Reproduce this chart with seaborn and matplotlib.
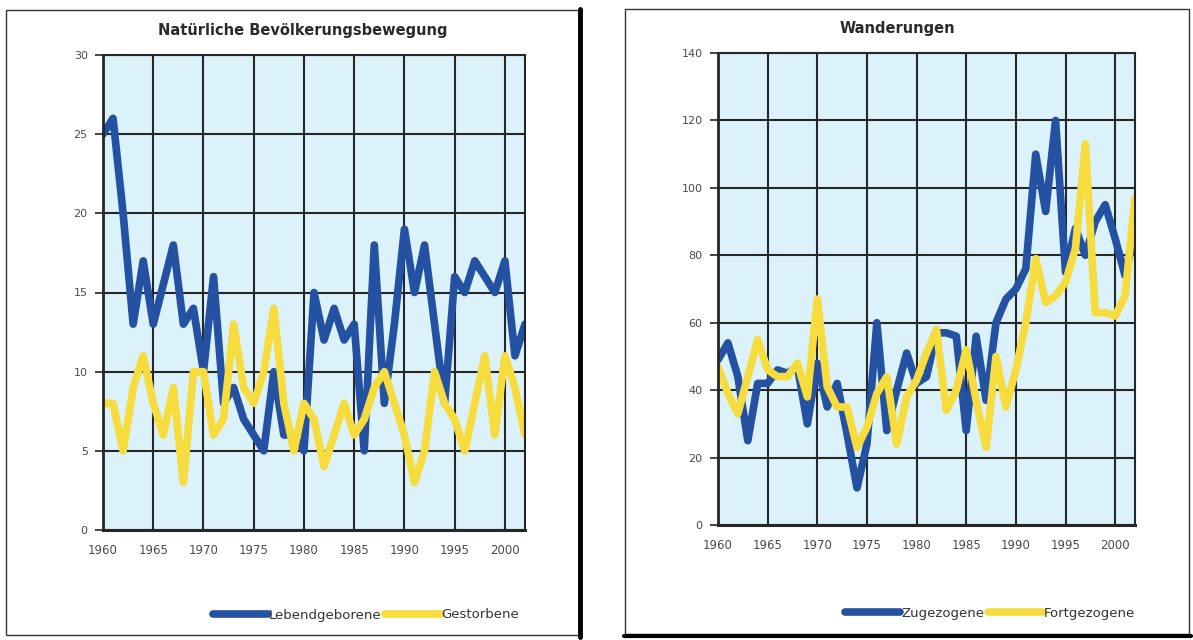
import matplotlib
matplotlib.use('Agg')
import matplotlib.pyplot as plt
import pandas as pd
import seaborn as sns
from matplotlib.patches import Rectangle
from matplotlib.lines import Line2D

# Jahre 1960 - 2002
years = list(range(1960, 2003))

# Natürliche Bevölkerungsbewegung
lebendgeborene = [25, 26, 20, 13, 17, 13, 15.5, 18, 13, 14,
                  10, 16, 8, 9, 7, 6, 5, 10, 6, 6,
                  5, 15, 12, 14, 12, 13, 5, 18, 8, 13,
                  19, 15, 18, 13, 8, 16, 15, 17, 16, 15,
                  17, 11, 13]
gestorbene = [8, 8, 5, 9, 11, 8, 6, 9, 3, 10,
              10, 6, 7, 13, 9, 8, 10, 14, 8, 5,
              8, 7, 4, 6, 8, 6, 7, 9, 10, 8,
              6, 3, 5, 10, 8, 7, 5, 8, 11, 6,
              11, 9, 6]

# Wanderungen
zugezogene = [49, 54, 44, 25, 42, 42, 46, 45, 47, 30,
              48, 35, 42, 27, 11, 24, 60, 28, 40, 51,
              42, 44, 57, 57, 56, 28, 56, 37, 60, 67,
              70, 76, 110, 93, 120, 75, 88, 80, 90, 95,
              85, 74, 87]
fortgezogene = [47, 39, 33, 44, 55, 46, 44, 44, 48, 38,
                67, 41, 35, 35, 23, 29, 39, 44, 24, 38,
                43, 51, 58, 34, 40, 52, 37, 23, 50, 35,
                46, 60, 79, 66, 68, 72, 82, 113, 63, 63,
                62, 68, 97]

x_ticks = list(range(1960, 2001, 5))
y_ticks_left = list(range(0, 31, 5))
y_ticks_right = list(range(0, 141, 20))

BLUE = "#2551a3"
YELLOW = "#f6dc3c"
BG = "#dcf2fa"
GRID = "#262626"

W, H = 1193, 640

sns.set_theme(style="white")
plt.rcParams['font.family'] = ['DejaVu Sans']

fig = plt.figure(figsize=(W / 100, H / 100), dpi=100)


def px_rect(x0, y0, x1, y1):
    # Pixel (oben links) -> Figure-Koordinaten
    return x0 / W, 1 - y1 / H, (x1 - x0) / W, (y1 - y0) / H


def fig_line(xs, ys, lw, color="black"):
    fig.add_artist(Line2D([x / W for x in xs], [1 - y / H for y in ys],
                          transform=fig.transFigure, color=color, lw=lw))


# Rahmen der beiden Grafiken
x, y, w, h = px_rect(6, 10, 579, 635)
fig.add_artist(Rectangle((x, y), w, h, transform=fig.transFigure,
                         fill=False, edgecolor="#333333", lw=1.0))
fig_line([580, 580], [9, 637], lw=3.5)

x, y, w, h = px_rect(625, 9, 1189, 634)
fig.add_artist(Rectangle((x, y), w, h, transform=fig.transFigure,
                         fill=False, edgecolor="#333333", lw=1.0))
fig_line([624, 1191], [636, 636], lw=3.0)


def draw_panel(ax_rect, first, second, names, yticks, title, title_xy, legend_xy):
    ax = fig.add_axes(px_rect(*ax_rect))
    df = pd.DataFrame({
        "Jahr": years * 2,
        "Wert": first + second,
        "Reihe": [names[0]] * len(years) + [names[1]] * len(years),
    })
    sns.lineplot(data=df, x="Jahr", y="Wert", hue="Reihe",
                 palette=[BLUE, YELLOW], linewidth=5.5, ax=ax,
                 solid_capstyle="round", solid_joinstyle="round")
    ax.set_facecolor(BG)
    ax.set_xlim(1960, 2002)
    ax.set_ylim(yticks[0], yticks[-1])
    ax.set_xticks(x_ticks)
    ax.set_yticks(yticks)
    ax.set_xlabel("")
    ax.set_ylabel("")
    ax.grid(True, color=GRID, lw=1.5)
    ax.set_axisbelow(True)
    for s in ax.spines.values():
        s.set_color(GRID)
        s.set_linewidth(1.5)
    ax.spines["left"].set_linewidth(2.0)
    ax.spines["bottom"].set_linewidth(2.2)
    ax.tick_params(axis="y", length=6, width=1.2, color=GRID, pad=5,
                   labelsize=8, labelcolor="#4a4a4a", left=True)
    ax.tick_params(axis="x", length=0, pad=10, labelsize=8.5, labelcolor="#4a4a4a")

    handles, labels = ax.get_legend_handles_labels()
    ax.legend(handles, labels, loc="center", ncol=2, frameon=False,
              bbox_to_anchor=(legend_xy[0] / W, 1 - legend_xy[1] / H),
              bbox_transform=fig.transFigure, fontsize=9.5,
              handlelength=4.2, handletextpad=0.05, columnspacing=0.3,
              labelcolor="#333333")

    fig.text(title_xy[0] / W, 1 - title_xy[1] / H, title, ha="center", va="center",
             fontsize=10.5, fontweight="bold", color="#2a2a2a")
    return ax


draw_panel((103, 55, 525, 530), lebendgeborene, gestorbene,
           ["Lebendgeborene", "Gestorbene"], y_ticks_left,
           "Natürliche Bevölkerungsbewegung", (303, 31), (366, 615))

draw_panel((718, 53, 1135, 525), zugezogene, fortgezogene,
           ["Zugezogene", "Fortgezogene"], y_ticks_right,
           "Wanderungen", (897, 29), (990, 613))

fig.savefig("out.png", dpi=100)
